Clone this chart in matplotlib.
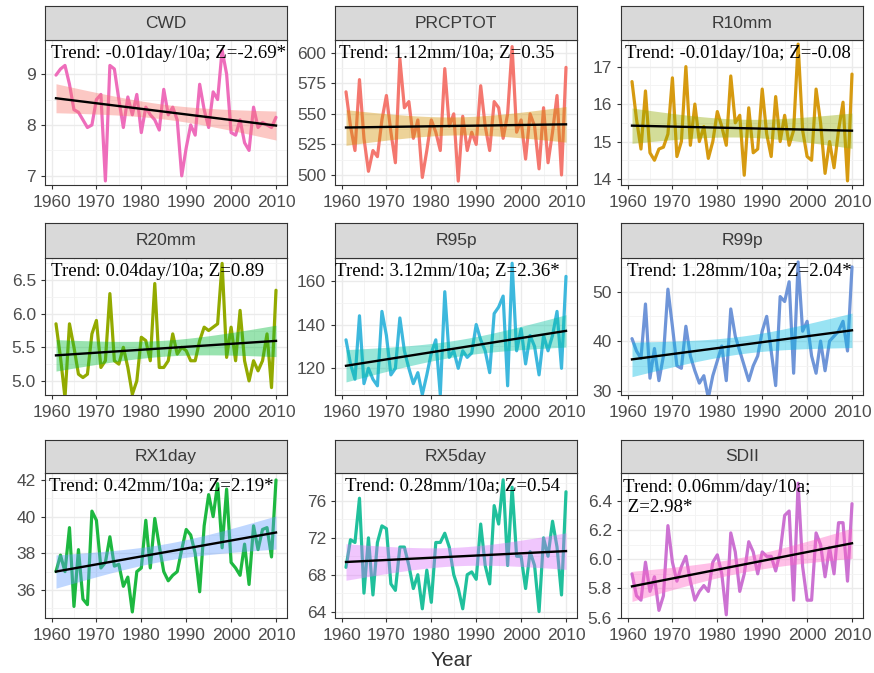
import numpy as np
import matplotlib
matplotlib.use("Agg")
import matplotlib.pyplot as plt

# ─────────────────────────────────────────
# DATA (annual values, 1961-2010)
# ─────────────────────────────────────────
years = np.arange(1961, 2011)

cwd = [8.98, 9.10, 9.17, 8.80, 8.30, 8.25, 8.10, 7.95, 8.00, 8.50,
       8.60, 6.90, 9.17, 9.10, 8.50, 7.95, 8.55, 8.20, 8.60, 7.85,
       8.35, 8.20, 8.10, 7.90, 8.70, 8.20, 8.35, 8.10, 7.00, 7.55,
       8.00, 7.80, 8.80, 8.30, 7.95, 8.65, 8.50, 9.47, 9.00, 7.85,
       7.80, 8.10, 7.65, 7.50, 8.35, 7.95, 8.05, 8.00, 7.95, 8.15]

prcptot = [568, 540, 520, 578, 530, 503, 520, 515, 545, 565,
           535, 510, 595, 555, 560, 530, 545, 498, 520, 545,
           535, 520, 587, 540, 550, 495, 548, 520, 535, 525,
           573, 540, 520, 560, 555, 530, 550, 605, 535, 545,
           513, 550, 540, 505, 555, 510, 535, 565, 500, 588]

r10mm = [16.6, 15.6, 14.8, 16.35, 14.7, 14.5, 14.8, 14.85, 15.2, 16.7,
         14.6, 15.0, 17.0, 14.9, 16.0, 15.0, 15.4, 14.55, 15.0, 15.8,
         15.4, 14.9, 16.75, 15.5, 15.7, 14.1, 15.9, 14.7, 14.8, 16.4,
         15.2, 14.6, 16.2, 15.0, 15.7, 14.9, 15.3, 17.6, 15.3, 14.6,
         14.5, 16.4, 15.5, 14.15, 15.0, 14.3, 15.3, 16.05, 13.95, 16.8]

r20mm = [5.85, 5.35, 4.75, 5.85, 5.50, 5.10, 5.05, 5.10, 5.70, 5.90,
         5.20, 5.30, 6.30, 5.30, 5.25, 5.50, 5.20, 4.80, 5.00, 5.65,
         5.60, 5.30, 6.45, 5.20, 5.20, 5.30, 5.70, 5.40, 5.50, 5.45,
         5.30, 5.30, 5.60, 5.80, 5.75, 5.80, 5.85, 6.75, 5.35, 5.80,
         5.30, 6.05, 5.30, 5.00, 5.30, 5.15, 5.30, 5.70, 4.90, 6.35]

r95p = [133, 122, 115, 144, 113, 120, 115, 112, 146, 135,
        117, 120, 143, 128, 120, 113, 118, 108, 117, 127,
        133, 108, 155, 125, 128, 120, 128, 125, 127, 140,
        133, 128, 118, 145, 148, 153, 112, 168, 128, 138,
        122, 135, 130, 117, 135, 128, 135, 146, 120, 162]

r99p = [40.5, 38.0, 36.5, 47.5, 32.5, 38.5, 32.0, 37.0, 50.5, 43.0,
        35.0, 34.5, 43.0, 37.0, 34.0, 31.5, 33.0, 28.5, 33.0, 36.0,
        39.0, 32.0, 46.5, 41.0, 38.0, 35.0, 32.0, 35.0, 37.0, 42.0,
        45.0, 38.0, 31.0, 49.0, 48.0, 52.0, 33.5, 56.0, 42.0, 44.0,
        37.0, 33.5, 40.0, 34.0, 40.0, 41.0, 42.0, 44.0, 38.0, 55.0]

rx1day = [37.0, 37.9, 37.0, 39.4, 35.1, 38.2, 35.5, 35.2, 40.3, 39.8,
          37.2, 37.5, 38.9, 37.3, 37.4, 36.2, 36.7, 34.8, 37.0, 37.2,
          39.8, 37.2, 39.9, 38.4, 37.0, 36.5, 36.8, 37.0, 38.2, 39.3,
          39.0, 38.0, 35.9, 39.5, 41.2, 40.0, 41.8, 38.3, 41.5, 37.5,
          37.2, 36.8, 38.5, 36.3, 39.5, 38.2, 39.3, 39.4, 37.8, 42.0]

rx5day = [68.8, 71.8, 71.5, 76.3, 66.0, 72.0, 65.8, 71.5, 73.3, 73.0,
          67.0, 66.3, 71.0, 71.0, 69.0, 66.5, 68.0, 64.3, 68.5, 65.0,
          71.5, 71.5, 72.5, 71.0, 68.0, 66.5, 64.3, 68.0, 68.3, 67.5,
          73.5, 69.0, 67.0, 75.5, 73.5, 78.3, 69.0, 77.5, 70.0, 70.0,
          66.5, 70.5, 69.0, 64.0, 72.0, 70.0, 73.8, 71.0, 65.8, 77.0]

sdii = [5.90, 5.75, 5.72, 5.98, 5.78, 5.88, 5.65, 5.75, 6.23, 5.98,
        5.85, 5.95, 6.02, 5.85, 5.72, 5.78, 5.82, 5.78, 5.98, 6.03,
        5.90, 5.62, 6.18, 6.05, 5.78, 5.90, 6.12, 6.05, 5.90, 6.05,
        6.02, 6.02, 5.92, 6.05, 6.30, 6.33, 5.72, 6.52, 5.95, 5.72,
        5.72, 6.18, 6.10, 5.88, 6.08, 5.90, 6.25, 6.25, 5.85, 6.38]

names = ["CWD", "PRCPTOT", "R10mm", "R20mm", "R95p", "R99p",
         "RX1day", "RX5day", "SDII"]
series = [cwd, prcptot, r10mm, r20mm, r95p, r99p, rx1day, rx5day, sdii]
labels = ["Trend: -0.01day/10a; Z=-2.69*",
          "Trend: 1.12mm/10a; Z=0.35",
          "Trend: -0.01day/10a; Z=-0.08",
          "Trend: 0.04day/10a; Z=0.89",
          "Trend: 3.12mm/10a; Z=2.36*",
          "Trend: 1.28mm/10a; Z=2.04*",
          "Trend: 0.42mm/10a; Z=2.19*",
          "Trend: 0.28mm/10a; Z=0.54",
          "Trend: 0.06mm/day/10a;\n Z=2.98*"]

# ─────────────────────────────────────────
# STYLE
# ─────────────────────────────────────────
line_colors = ["#EE6DBB", "#F4776F", "#D69A10", "#93AA00", "#3DB8DD",
               "#6F95D8", "#1DB840", "#20C09C", "#CC72D2"]
band_colors = ["#F8766D", "#D39200", "#93AA00", "#00BA38", "#00C19F",
               "#00B9E3", "#619CFF", "#DB72FB", "#FF61C3"]

ylims = [(6.82, 9.67), (491.8, 610.4), (13.84, 17.71),
         (4.79, 6.83), (107.8, 170.4), (29.1, 56.8),
         (34.47, 42.38), (63.3, 79.04), (5.598, 6.59)]
yticks = [[7, 8, 9], [500, 525, 550, 575, 600], [14, 15, 16, 17],
          [5.0, 5.5, 6.0, 6.5], [120, 140, 160], [30, 40, 50],
          [36, 38, 40, 42], [64, 68, 72, 76], [5.6, 5.8, 6.0, 6.2, 6.4]]
yfmt = ["{:.0f}", "{:.0f}", "{:.0f}", "{:.1f}", "{:.0f}", "{:.0f}",
        "{:.0f}", "{:.0f}", "{:.1f}"]
text_dx = [6, 4, 4, 6, 0, 6, 4, 10, 2]   # px from panel left

W, H = 874, 673
col_x = [(45, 287), (335, 577), (621, 863)]
row_y = [(6, 40, 185), (223, 258, 395), (440, 473, 618)]  # strip top, plot top, plot bottom

TICK_COL = "#4D4D4D"
plt.rcParams["font.family"] = ["Liberation Sans", "DejaVu Sans"]

fig = plt.figure(figsize=(W / 100, H / 100), dpi=100)

t_crit = 2.0106  # 95% t quantile, df=48
x = years.astype(float)
xfit = np.linspace(x.min(), x.max(), 100)

for i, name in enumerate(names):
    r, c = divmod(i, 3)
    x0, x1 = col_x[c]
    st, pt, pb = row_y[r]
    ax = fig.add_axes([x0 / W, 1 - pb / H, (x1 - x0) / W, (pb - pt) / H])
    sax = fig.add_axes([x0 / W, 1 - pt / H, (x1 - x0) / W, (pt - st) / H])

    y = np.asarray(series[i], dtype=float)

    # linear fit + 95% confidence band (like geom_smooth(method="lm"))
    slope, icpt = np.polyfit(x, y, 1)
    resid = y - (slope * x + icpt)
    sigma = np.sqrt(np.sum(resid ** 2) / (len(x) - 2))
    sxx = np.sum((x - x.mean()) ** 2)
    yfit = slope * xfit + icpt
    se = sigma * np.sqrt(1 / len(x) + (xfit - x.mean()) ** 2 / sxx)

    ax.plot(x, y, color=line_colors[i], lw=2.3, zorder=3,
            solid_joinstyle="round", solid_capstyle="round")
    ax.fill_between(xfit, yfit - t_crit * se, yfit + t_crit * se,
                    color=band_colors[i], alpha=0.4, lw=0, zorder=4)
    ax.plot(xfit, yfit, color="black", lw=1.7, zorder=5)

    ax.set_xlim(1958.55, 2012.45)
    ax.set_ylim(*ylims[i])
    ax.set_xticks(range(1960, 2011, 10))
    ax.set_xticks(range(1965, 2011, 10), minor=True)
    ax.set_yticks(yticks[i])
    ax.set_yticklabels([yfmt[i].format(v) for v in yticks[i]])
    yt = yticks[i]
    step = yt[1] - yt[0]
    minor = [v + step / 2 for v in [yt[0] - step] + yt]
    ax.set_yticks([m for m in minor if ylims[i][0] < m < ylims[i][1]], minor=True)

    ax.grid(True, which="major", color="#EBEBEB", lw=1.0, zorder=0)
    ax.grid(True, which="minor", color="#F3F3F3", lw=0.6, zorder=0)
    ax.set_axisbelow(True)
    ax.tick_params(which="major", length=3, width=0.8, color="#333333",
                   labelsize=12.5, labelcolor=TICK_COL)
    ax.tick_params(axis="x", which="major", pad=4.5)
    ax.tick_params(axis="y", which="major", pad=3.5)
    ax.tick_params(which="minor", length=0)
    for s in ax.spines.values():
        s.set_color("#333333")
        s.set_linewidth(0.8)

    n_lines = labels[i].count("\n") + 1
    dy = 13 + (n_lines - 1) * 11.5
    ax.text(text_dx[i] / (x1 - x0), 1 - dy / (pb - pt), labels[i],
            transform=ax.transAxes, ha="left", va="center",
            family="Liberation Serif", fontsize=13.6, color="black",
            linespacing=1.2, zorder=6)

    # strip
    sax.set_facecolor("#D9D9D9")
    sax.set_xticks([])
    sax.set_yticks([])
    for s in sax.spines.values():
        s.set_color("#333333")
        s.set_linewidth(0.8)
    sax.text(0.5, 0.5, name, transform=sax.transAxes, ha="center",
             va="center", fontsize=12.5, color="#3A3A3A")

fig.text(452 / W, 1 - 660 / H, "Year", ha="center", va="center",
         fontsize=15, color="#333333")

fig.savefig("out.png", dpi=100)
